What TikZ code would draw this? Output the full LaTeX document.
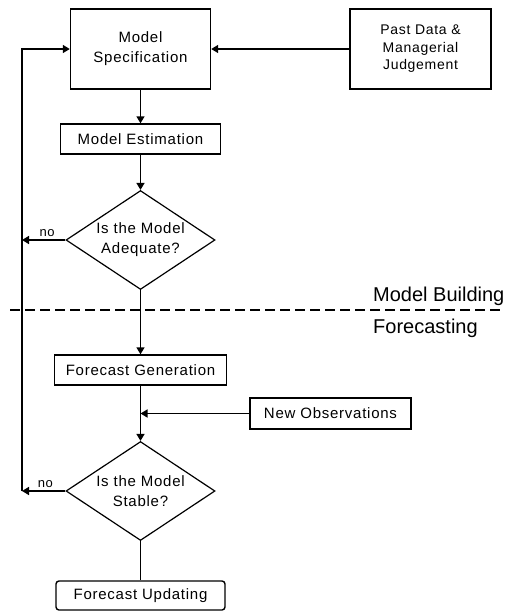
\documentclass[tikz,border=0pt]{standalone}
\usepackage{fontspec}
\setmainfont{Liberation Sans}
\newfontfamily\boxfont{Liberation Sans}[LetterSpace=5]
\usetikzlibrary{shapes.geometric,arrows.meta}
\begin{document}
\begin{tikzpicture}[x=1pt,y=-1pt,
  every node/.style={inner sep=0pt},
  boxnode/.style={draw, line width=1.4pt, align=center,
    font=\boxfont\fontsize{15}{20}\selectfont},
  pastnode/.style={draw, line width=1.4pt, align=center,
    font=\boxfont\fontsize{14}{17.5}\selectfont},
  decision/.style={draw, diamond, aspect=1.5, line width=1.2pt, align=center,
    minimum width=149pt, minimum height=99pt,
    font=\boxfont\fontsize{15}{20}\selectfont},
  conn/.style={line width=1.5pt, -{Triangle[length=7pt,width=8pt]}},
  plain/.style={line width=1.5pt},
  sep/.style={line width=1.3pt, dash pattern=on 10pt off 5pt},
  nolabel/.style={font=\boxfont\fontsize{13}{15}\selectfont, above, inner sep=3pt},
  phase/.style={font=\fontsize{20}{24}\selectfont, anchor=base west}
]
\useasboundingbox (0,0) rectangle (504,611);

\node[boxnode, minimum width=140pt, minimum height=80pt] (ms) at (140.5,49) {Model\\Specification};
\node[pastnode, minimum width=141pt, minimum height=80pt] (pd) at (420.5,49) {Past Data \&\\Managerial\\Judgement};
\node[boxnode, minimum width=160pt, minimum height=30pt] (me) at (140.5,139) {Model Estimation};
\node[decision] (ad) at (140.5,240) {Is the Model\\Adequate?};
\node[boxnode, minimum width=172pt, minimum height=30pt] (fg) at (140.5,370) {Forecast Generation};
\node[boxnode, minimum width=161pt, minimum height=31pt] (no) at (330.5,413.5) {New Observations};
\node[decision] (st) at (140.5,491) {Is the Model\\Stable?};
\node[boxnode, rounded corners=3pt, minimum width=169pt, minimum height=29pt] (fu) at (140.5,595.5) {Forecast Updating};

\node[phase] (mb) at (373,301.5) {Model Building};
\node[phase] (fc) at (373,333) {Forecasting};

\coordinate (fbT) at (22,49);
\coordinate (fbA) at (22,240);
\coordinate (fbB) at (22,491);
\coordinate (join) at (fg.south |- no.west);
\coordinate (dashL) at (10,310);
\coordinate (dashR) at (504,310);

\draw[conn] (pd.west) -- (ms.east);
\draw[conn] (ms.south) -- (me.north);
\draw[conn] (me.south) -- (ad.north);
\draw[conn] (ad.west) -- node[nolabel, pos=0.42] {no} (fbA);
\draw[conn] (ad.south) -- (fg.north);
\draw[conn] (fg.south) -- (st.north);
\draw[conn] (no.west) -- (join);
\draw[conn] (st.west) -- node[nolabel, pos=0.46] {no} (fbB);
\draw[conn] (fbB) -- (fbT) -- (ms.west);
\draw[plain] (st.south) -- (fu.north);
\draw[sep] (dashL) -- (dashR);
\end{tikzpicture}
\end{document}
